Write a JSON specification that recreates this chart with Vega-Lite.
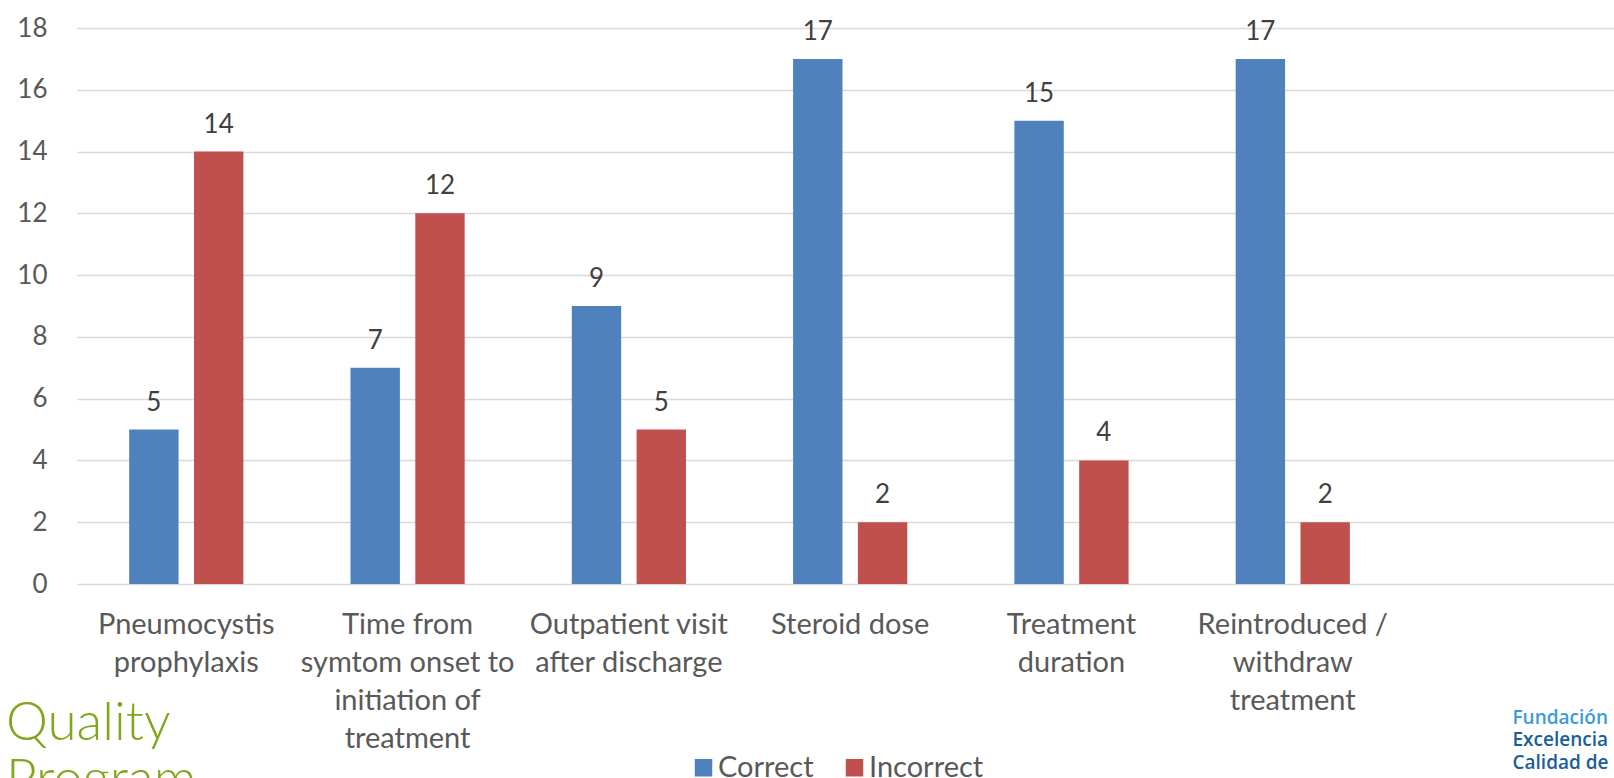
{
  "$schema": "https://vega.github.io/schema/vega-lite/v6.json",
  "width": 1537,
  "height": 556,
  "autosize": "none",
  "padding": {"left": 77, "top": 28, "right": 0, "bottom": 194},
  "background": "white",
  "config": {"view": {"stroke": null}, "font": "Lato"},
  "title": {
    "text": ["Quality", "Program"],
    "orient": "bottom",
    "anchor": "start",
    "frame": "group",
    "fontSize": 53,
    "fontWeight": 300,
    "lineHeight": 57,
    "color": "#7fa61c",
    "dx": -71,
    "dy": -89
  },
  "data": {
    "values": [
      {"category": "Pneumocystis|prophylaxis", "series": "Correct", "value": 5},
      {"category": "Pneumocystis|prophylaxis", "series": "Incorrect", "value": 14},
      {"category": "Time from|symtom onset to|initiation of|treatment", "series": "Correct", "value": 7},
      {"category": "Time from|symtom onset to|initiation of|treatment", "series": "Incorrect", "value": 12},
      {"category": "Outpatient visit|after discharge", "series": "Correct", "value": 9},
      {"category": "Outpatient visit|after discharge", "series": "Incorrect", "value": 5},
      {"category": "Steroid dose", "series": "Correct", "value": 17},
      {"category": "Steroid dose", "series": "Incorrect", "value": 2},
      {"category": "Treatment|duration", "series": "Correct", "value": 15},
      {"category": "Treatment|duration", "series": "Incorrect", "value": 4},
      {"category": "Reintroduced /|withdraw|treatment", "series": "Correct", "value": 17},
      {"category": "Reintroduced /|withdraw|treatment", "series": "Incorrect", "value": 2}
    ]
  },
  "encoding": {
    "x": {
      "field": "category",
      "type": "nominal",
      "sort": null,
      "scale": {"paddingInner": 0.484, "paddingOuter": 0.7147, "align": 0.165},
      "axis": {
        "title": ["Excelencia", "Calidad de"],
        "titleX": 1435,
        "titleY": 155,
        "titleAlign": "left",
        "titleBaseline": "middle",
        "titleAngle": 0,
        "titleFont": "Open Sans",
        "titleFontSize": 19,
        "titleFontWeight": 600,
        "titleLineHeight": 23,
        "titleColor": "#1a5e99",
        "labelAngle": 0,
        "labelExpr": "split(datum.label, '|')",
        "labelFontSize": 29,
        "labelLineHeight": 38,
        "labelColor": "#595959",
        "labelPadding": 26,
        "labelLimit": 0,
        "domain": false,
        "ticks": false
      }
    },
    "xOffset": {
      "field": "series",
      "sort": ["Correct", "Incorrect"],
      "scale": {"paddingInner": 0.238, "paddingOuter": 0}
    },
    "y": {
      "field": "value",
      "type": "quantitative",
      "scale": {"domain": [0, 18]},
      "axis": {
        "title": "Fundación",
        "titleX": 1435,
        "titleY": 689,
        "titleAlign": "left",
        "titleBaseline": "middle",
        "titleAngle": 0,
        "titleFont": "Open Sans",
        "titleFontSize": 19,
        "titleFontWeight": 600,
        "titleColor": "#3d9ad9",
        "values": [0, 2, 4, 6, 8, 10, 12, 14, 16, 18],
        "grid": true,
        "gridColor": "#d9d9d9",
        "gridWidth": 1.5,
        "domain": false,
        "ticks": false,
        "labelFontSize": 26,
        "labelColor": "#595959",
        "labelPadding": 30
      }
    }
  },
  "layer": [
    {
      "mark": {"type": "bar"},
      "encoding": {
        "color": {
          "field": "series",
          "type": "nominal",
          "sort": ["Correct", "Incorrect"],
          "scale": {"domain": ["Correct", "Incorrect"], "range": ["#4f81bd", "#c0504d"]},
          "legend": {
            "title": null,
            "orient": "none",
            "direction": "horizontal",
            "legendX": 612,
            "legendY": 725,
            "symbolType": "square",
            "symbolSize": 306,
            "symbolStrokeWidth": 0,
            "labelFontSize": 29,
            "labelColor": "#595959",
            "labelOffset": 0,
            "columnPadding": 26,
            "padding": 0
          }
        }
      }
    },
    {
      "mark": {"type": "text", "fontSize": 26, "color": "#404040", "baseline": "alphabetic", "dy": -19},
      "encoding": {"text": {"field": "value", "type": "quantitative"}}
    }
  ]
}
